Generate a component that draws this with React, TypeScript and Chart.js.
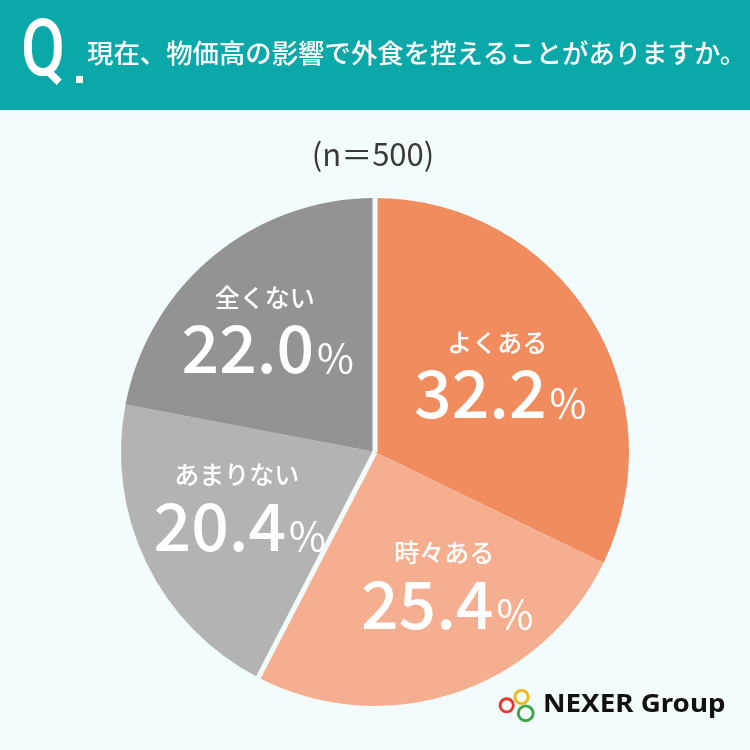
import { useEffect, useRef } from 'react';
import { Chart, registerables } from 'chart.js';

Chart.register(...registerables);

const categories = ['よくある', '時々ある', 'あまりない', '全くない'];
const values = [32.2, 25.4, 20.4, 22.0];
const sliceColors = ['#F18C5F', '#F5AE8F', '#B3B3B3', '#939393'];
const sampleSize = 500;
const questionText = '現在、物価高の影響で外食を控えることがありますか。';
const brandName = 'NEXER Group';

// label placement relative to each slice (fraction of radius, angle shift in degrees)
const labelRadius = [0.593, 0.574, 0.566, 0.66];
const labelAngleShift = [-1.7, -11.3, 6.1, -0.2];
// slices whose starting edge shows a gap line
const separatorAt = [0, 2];

const BG = '#F2FCFC';
const HEADER = '#0AA8A8';
const JP = '"Noto Sans CJK JP", "Noto Sans", sans-serif';

const decorPlugin = {
  id: 'decor',
  beforeDraw(chart: any) {
    const ctx = chart.ctx as CanvasRenderingContext2D;
    ctx.save();
    ctx.fillStyle = BG;
    ctx.fillRect(0, 0, 750, 750);
    ctx.fillStyle = HEADER;
    ctx.fillRect(0, 0, 750, 110);

    // Q.
    ctx.fillStyle = '#FFFFFF';
    ctx.save();
    ctx.translate(21, 75);
    ctx.scale(0.8, 1);
    ctx.font = '500 80px Roboto';
    ctx.textBaseline = 'alphabetic';
    ctx.textAlign = 'left';
    ctx.fillText('Q', 0, 0);
    ctx.restore();
    ctx.fillRect(76, 76, 7, 7);

    // title
    ctx.font = `500 26.4px ${JP}`;
    ctx.textBaseline = 'middle';
    ctx.textAlign = 'left';
    ctx.fillText(questionText, 87, 53);

    // sample size
    ctx.fillStyle = '#3A3A3A';
    ctx.font = `400 31px ${JP}`;
    ctx.textAlign = 'center';
    ctx.fillText(`(n＝${sampleSize})`, 373, 154);

    // logo rings
    const rings: [number, number, number, string][] = [
      [506.7, 705.3, 6.6, '#DF3A2E'],
      [521.5, 697, 6.6, '#F3B51B'],
      [525.7, 713.3, 7.4, '#3BA648'],
    ];
    ctx.lineWidth = 2.9;
    rings.forEach(([x, y, r, c]) => {
      ctx.strokeStyle = c;
      ctx.beginPath();
      ctx.arc(x, y, r, 0, Math.PI * 2);
      ctx.stroke();
    });
    ctx.fillStyle = '#111111';
    ctx.save();
    ctx.translate(543, 712);
    ctx.scale(1.11, 1);
    ctx.font = 'bold 25px "Noto Sans"';
    ctx.textAlign = 'left';
    ctx.textBaseline = 'alphabetic';
    ctx.fillText(brandName, 0, 0);
    ctx.restore();
    ctx.restore();
  },
  afterDatasetsDraw(chart: any) {
    const ctx = chart.ctx as CanvasRenderingContext2D;
    const meta = chart.getDatasetMeta(0);
    ctx.save();
    // separators
    ctx.strokeStyle = BG;
    ctx.lineWidth = 5;
    ctx.lineCap = 'butt';
    separatorAt.forEach((idx) => {
      const arc = meta.data[idx] as any;
      const { x, y, startAngle, outerRadius } = arc.getProps(['x', 'y', 'startAngle', 'outerRadius'], true);
      ctx.beginPath();
      ctx.moveTo(x, y);
      ctx.lineTo(x + (outerRadius + 3) * Math.cos(startAngle), y + (outerRadius + 3) * Math.sin(startAngle));
      ctx.stroke();
    });

    // labels
    ctx.fillStyle = '#FFFFFF';
    meta.data.forEach((el: any, i: number) => {
      const { x, y, startAngle, endAngle, outerRadius } = el.getProps(['x', 'y', 'startAngle', 'endAngle', 'outerRadius'], true);
      const mid = (startAngle + endAngle) / 2 + (labelAngleShift[i] * Math.PI) / 180;
      const r = outerRadius * labelRadius[i];
      const ax = x + r * Math.cos(mid);
      const ay = y + r * Math.sin(mid);

      ctx.textAlign = 'center';
      ctx.textBaseline = 'middle';
      ctx.font = `500 25px ${JP}`;
      ctx.fillText(categories[i], ax - 3, ay - 26);

      const num = values[i].toFixed(1);
      ctx.font = `500 66px ${JP}`;
      const nw = ctx.measureText(num).width;
      ctx.font = `400 40px ${JP}`;
      const pw = ctx.measureText('%').width;
      const gap = 3;
      const sx = ax - (nw + gap + pw) / 2;
      ctx.textAlign = 'left';
      ctx.textBaseline = 'alphabetic';
      ctx.font = `500 66px ${JP}`;
      ctx.fillText(num, sx, ay + 50);
      ctx.font = `400 40px ${JP}`;
      ctx.fillText('%', sx + nw + gap, ay + 50);
    });
    ctx.restore();
  },
};

export default function App() {
  const ref = useRef<HTMLCanvasElement>(null);
  useEffect(() => {
    let chart: Chart | null = null;
    let cancelled = false;
    const make = () => {
      if (cancelled || !ref.current) return;
      chart = new Chart(ref.current, {
        type: 'pie',
        data: {
          labels: categories,
          datasets: [
            {
              data: values,
              backgroundColor: sliceColors,
              borderWidth: 0,
              hoverOffset: 0,
            },
          ],
        },
        options: {
          responsive: false,
          animation: false,
          events: [],
          layout: { padding: { top: 198, bottom: 44, left: 121, right: 121 } },
          plugins: {
            legend: { display: false },
            tooltip: { enabled: false },
          },
        },
        plugins: [decorPlugin],
      });
    };
    const fonts = [`500 26px "Noto Sans CJK JP"`, `400 40px "Noto Sans CJK JP"`, '500 80px Roboto', 'bold 25px "Noto Sans"'];
    Promise.all(fonts.map((f) => document.fonts.load(f))).then(make, make);
    return () => {
      cancelled = true;
      if (chart) chart.destroy();
    };
  }, []);
  return (
    <div style={{ position: 'absolute', left: 0, top: 0, width: 750, height: 750, overflow: 'hidden' }}>
      <canvas ref={ref} width={750} height={750} style={{ display: 'block', width: 750, height: 750 }} />
    </div>
  );
}
